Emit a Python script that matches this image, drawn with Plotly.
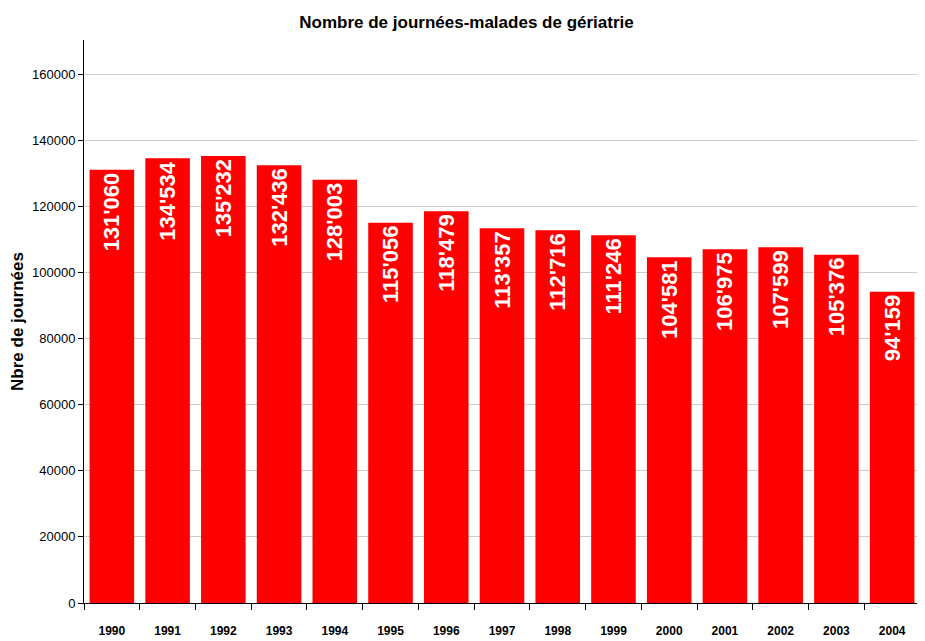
import plotly.graph_objects as go

years = ["1990", "1991", "1992", "1993", "1994", "1995", "1996", "1997",
         "1998", "1999", "2000", "2001", "2002", "2003", "2004"]
journees = [131060, 134534, 135232, 132436, 128003, 115056, 118479, 113357,
            112716, 111246, 104581, 106975, 107599, 105376, 94159]
labels = [" " + f"{v:,}".replace(",", "'") for v in journees]
y_ticks = [0, 20000, 40000, 60000, 80000, 100000, 120000, 140000, 160000]

fig = go.Figure(go.Bar(
    x=years, y=journees, text=labels,
    marker=dict(color="#ff0000", line=dict(width=0)),
    textposition="inside", insidetextanchor="end", textangle=-90,
    textfont=dict(family="Liberation Sans, Arial", size=22, color="white", weight="bold"),
    width=0.8, cliponaxis=False,
))

fig.update_layout(
    width=917, height=633,
    margin=dict(l=76, r=5, t=32, b=38),
    paper_bgcolor="white", plot_bgcolor="white",
    title=dict(text="<b>Nombre de journées-malades de gériatrie</b>",
               x=0.5, xanchor="center", y=0.978, yanchor="middle",
               font=dict(family="Liberation Sans Narrow, Liberation Sans, Arial", size=17, color="black")),
    showlegend=False,
    uniformtext=dict(mode=False),
)
fig.update_xaxes(
    type="category", showline=True, linecolor="black", linewidth=1,
    ticks="outside", tickson="boundaries", ticklen=6, tickcolor="black",
    tickfont=dict(family="Liberation Sans, Arial", size=12, color="black", weight="bold"),
    ticklabelstandoff=17, showgrid=False, automargin=False,
)
fig.update_yaxes(
    range=[0, 170300], tickvals=y_ticks, ticktext=[str(v) for v in y_ticks],
    showline=True, linecolor="black", linewidth=1,
    ticks="outside", ticklen=5, tickcolor="black",
    tickfont=dict(family="Liberation Sans, Arial", size=13, color="black"),
    showgrid=True, gridcolor="#cccccc", gridwidth=1, zeroline=False,
    automargin=False,
    title=dict(text="<b>Nbre de journées</b>", standoff=10,
               font=dict(family="Liberation Sans, Arial", size=17, color="black")),
)

fig.write_html("out.html")
